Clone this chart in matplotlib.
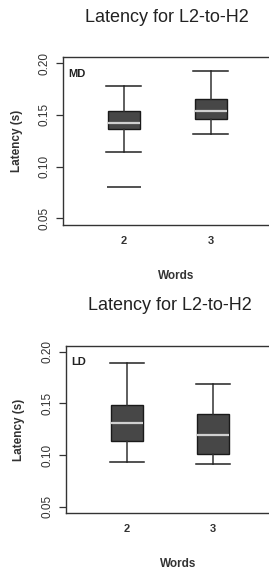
import matplotlib
matplotlib.use("Agg")
import matplotlib.pyplot as plt

words = [2, 3]
title = "Latency for L2-to-H2"
panel_labels = ["MD", "LD"]
yticks = [0.05, 0.10, 0.15, 0.20]
ytick_labels = ["0.05", "0.10", "0.15", "0.20"]

# MD panel: (whislo, q1, med, q3, whishi)
md_whislo = [0.114, 0.132]
md_q1 = [0.136, 0.146]
md_med = [0.142, 0.1535]
md_q3 = [0.1535, 0.165]
md_whishi = [0.178, 0.192]
md_fliers = [[0.080], []]

# LD panel
ld_whislo = [0.0935, 0.0916]
ld_q1 = [0.1132, 0.1007]
ld_med = [0.1306, 0.1194]
ld_q3 = [0.1484, 0.1397]
ld_whishi = [0.1888, 0.169]
ld_fliers = [[], []]

plt.rcParams['font.family'] = ['Liberation Sans', 'DejaVu Sans']

fig = plt.figure(figsize=(2.69, 5.69), dpi=100)

def make_stats(lo, q1, med, q3, hi, fl):
    return [dict(whislo=lo[i], q1=q1[i], med=med[i], q3=q3[i], whishi=hi[i],
                 fliers=fl[i], label=str(words[i])) for i in range(len(words))]

panels = [
    dict(rect=[63/269, 1-225/569, 226/269, 168/569], xlim=(1.30, 3.90),
         stats=make_stats(md_whislo, md_q1, md_med, md_q3, md_whishi, md_fliers),
         label=panel_labels[0], title_x=167/269, title_y=1-18/569, ylabel_x=17/269),
    dict(rect=[66/269, 1-513.3/569, 224.5/269, 167.6/569], xlim=(1.29, 3.90),
         stats=make_stats(ld_whislo, ld_q1, ld_med, ld_q3, ld_whishi, ld_fliers),
         label=panel_labels[1], title_x=170/269, title_y=1-306/569, ylabel_x=19/269),
]

for p in panels:
    ax = fig.add_axes(p["rect"])
    ax.bxp(p["stats"], positions=words, widths=0.37, capwidths=0.40,
           patch_artist=True, showfliers=True,
           boxprops=dict(facecolor='#474747', edgecolor='#1a1a1a', linewidth=1.0),
           medianprops=dict(color='#d0d0d0', linewidth=1.6),
           whiskerprops=dict(color='#333333', linewidth=1.1, linestyle='-'),
           capprops=dict(color='#222222', linewidth=1.1),
           flierprops=dict(marker='_', markersize=25, markeredgecolor='#222222',
                           markeredgewidth=1.1, linestyle='none'))
    ax.set_xlim(*p["xlim"])
    ax.set_ylim(0.0435, 0.206)
    ax.set_yticks(yticks)
    ax.set_yticklabels(ytick_labels, rotation=90, va='center', fontsize=8.5,
                       color='#333333')
    ax.set_xticks(words)
    ax.set_xticklabels([str(w) for w in words], fontsize=8, fontweight='bold',
                       color='#333333')
    ax.tick_params(axis='x', length=0, pad=8)
    ax.tick_params(axis='y', length=5, width=0.9, direction='out', pad=4,
                   color='#333333')
    for s in ax.spines.values():
        s.set_linewidth(1.0)
        s.set_color('#333333')
    ax.spines['right'].set_visible(False)
    ax.text(0.022, 0.90, p["label"], transform=ax.transAxes, fontsize=8,
            fontweight='bold', color='#222222', va='center', ha='left')
    ax.set_xlabel("Words", fontsize=8.5, fontweight='bold', color='#333333',
                  labelpad=17)
    fig.text(p["ylabel_x"], p["rect"][1] + p["rect"][3] * 0.5, "Latency (s)",
             rotation=90, fontsize=8.5, fontweight='bold', color='#333333',
             ha='center', va='center')
    fig.text(p["title_x"], p["title_y"], title, fontsize=13, ha='center',
             va='center', color='#222222')

fig.savefig("out.png", dpi=100)
